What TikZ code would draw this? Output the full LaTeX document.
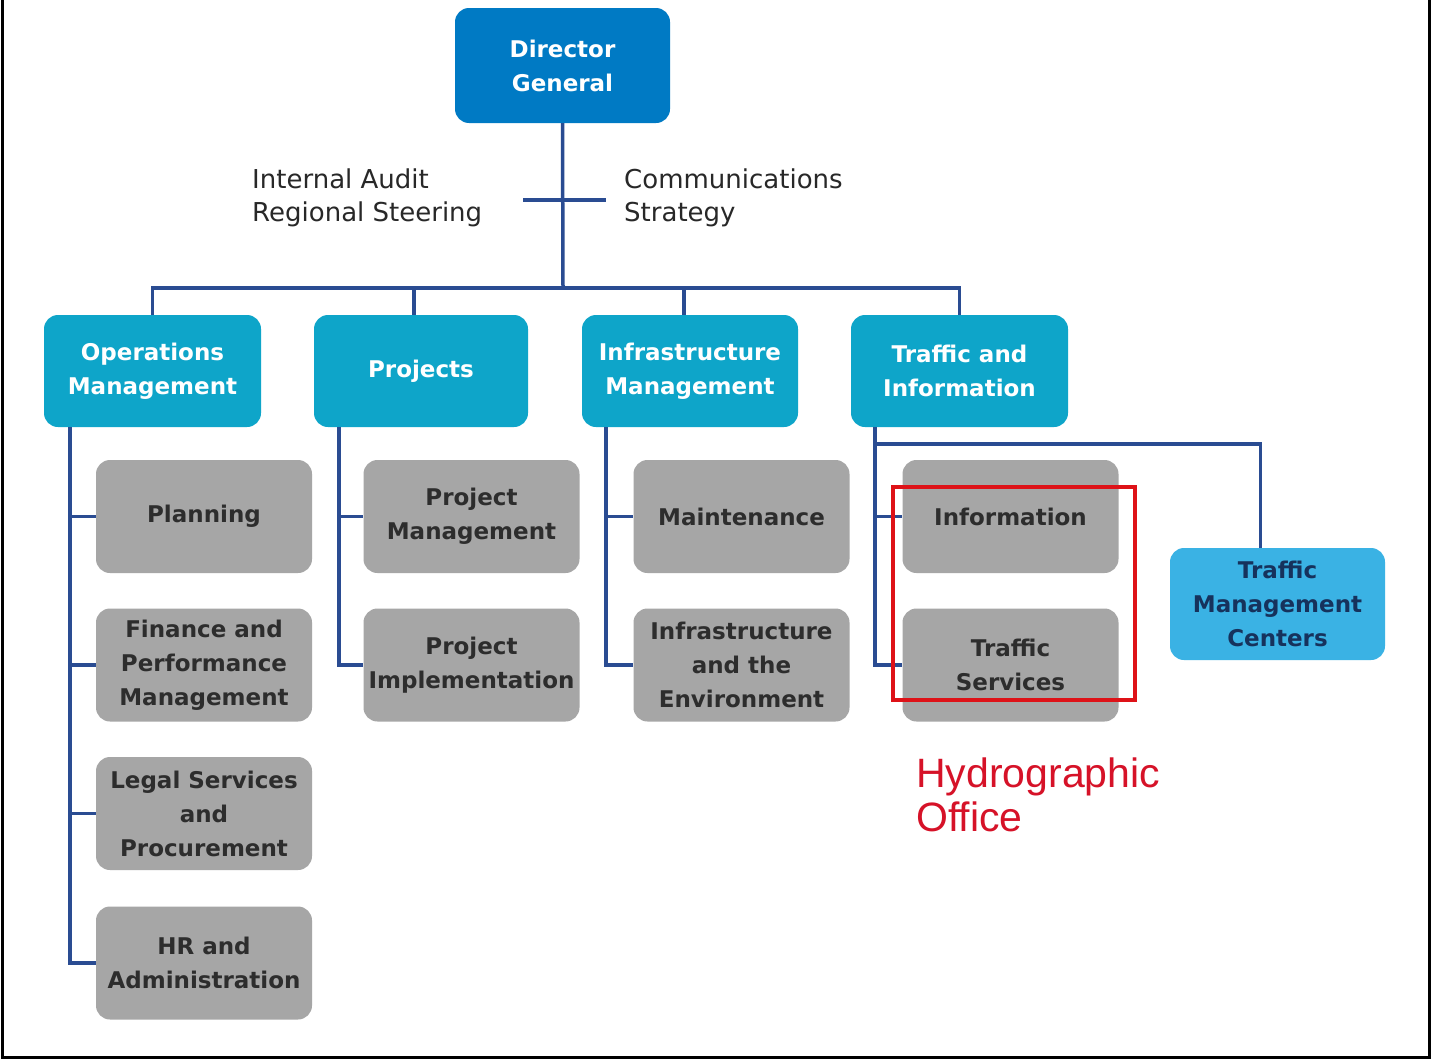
\documentclass[tikz,border=0pt]{standalone}
\usepackage{fontspec}
\setmainfont{DejaVu Sans}
\newfontfamily\hydrofont{Liberation Sans}
\definecolor{dgblue}{RGB}{0,122,196}
\definecolor{divblue}{RGB}{14,165,201}
\definecolor{tmcblue}{RGB}{58,178,228}
\definecolor{tmctext}{RGB}{22,50,92}
\definecolor{subgrey}{RGB}{166,166,166}
\definecolor{subtext}{RGB}{45,45,45}
\definecolor{linecol}{RGB}{42,76,146}
\definecolor{sidetext}{RGB}{40,40,40}
\definecolor{hydrored}{RGB}{214,18,40}
\definecolor{framered}{RGB}{222,18,24}
\begin{document}
\begin{tikzpicture}[x=1pt,y=-1pt,
  conn/.style={draw=linecol,line width=3.5pt},
  box/.style={rounded corners=14pt,minimum width=216pt,minimum height=113pt,inner sep=0pt,align=center,font=\bfseries\fontsize{23}{34}\selectfont},
  topbox/.style={box,fill=dgblue,text=white,minimum width=215pt,minimum height=115pt},
  divbox/.style={box,fill=divblue,text=white,minimum height=112pt},
  subbox/.style={box,fill=subgrey,text=subtext},
  tmcbox/.style={box,fill=tmcblue,text=tmctext,minimum width=215pt,minimum height=112pt},
  side/.style={anchor=west,align=left,text=sidetext,inner sep=0pt,font=\fontsize{26}{33}\selectfont}]
\useasboundingbox (0,0) rectangle (1431,1060);
\fill[white] (0,0) rectangle (1431,1060);
% frame
\draw[black,line width=3pt] (2,0) -- (2,1057.5) -- (1429,1057.5) -- (1429,0);

% top
\node[topbox] (dg) at (562.5,65.5) {Director\\General};
\node[side] (audit) at (252,198) {Internal Audit\\Regional Steering};
\node[side] (comm) at (624,198) {Communications\\Strategy};

% divisions
\node[divbox,minimum width=217pt] (ops) at (152.5,371) {Operations\\Management};
\node[divbox,minimum width=214pt] (proj) at (421,371) {Projects};
\node[divbox] (infra) at (690,371) {Infrastructure\\Management};
\node[divbox,minimum width=217pt] (trf) at (959.5,371) {Traffic and\\Information};

% sub units
\node[subbox] (plan) at (204,516.5) {Planning};
\node[subbox] (fin) at (204,665) {Finance and\\Performance\\Management};
\node[subbox] (legal) at (204,813.5) {Legal Services\\and\\Procurement};
\node[subbox] (hr) at (204,963) {HR and\\Administration};
\node[subbox] (pm) at (471.5,516.5) {Project\\Management};
\node[subbox] (pi) at (471.5,665) {Project\\Implementation};
\node[subbox] (mt) at (741.5,516.5) {Maintenance};
\node[subbox] (ie) at (741.5,665) {Infrastructure\\and the\\Environment};
\node[subbox] (info) at (1010.5,516.5) {Information};
\node[subbox] (ts) at (1010.5,665) {Traffic\\Services};
\node[tmcbox] (tmc) at (1277.5,604) {Traffic\\Management\\Centers};

% connectors top
\coordinate (bar) at (563,288);
\coordinate (crossL) at (523,200);
\coordinate (crossR) at (606,200);
\draw[conn] (dg.south) -- (bar);
\draw[conn] (crossL) -- (crossR);
\draw[conn] (ops.north) -- (ops.north |- bar) -- (trf.north |- bar) -- (trf.north);
\draw[conn] ([xshift=-7pt]proj.north) -- ([xshift=-7pt]proj.north |- bar);
\draw[conn] ([xshift=-6pt]infra.north) -- ([xshift=-6pt]infra.north |- bar);

% rails
\coordinate (opsrail) at (70,427);
\coordinate (projrail) at (339,427);
\coordinate (infrarail) at (606,427);
\coordinate (trfrail) at (875,427);
\draw[conn] (opsrail) |- (hr.west);
\draw[conn] (opsrail |- plan.west) -- (plan.west);
\draw[conn] (opsrail |- fin.west) -- (fin.west);
\draw[conn] (opsrail |- legal.west) -- (legal.west);
\draw[conn] (projrail) |- (pi.west);
\draw[conn] (projrail |- pm.west) -- (pm.west);
\draw[conn] (infrarail) |- (ie.west);
\draw[conn] (infrarail |- mt.west) -- (mt.west);
\draw[conn] (trfrail) |- (ts.west);
\draw[conn] (trfrail |- info.west) -- (info.west);
\coordinate (tjoin) at (873,444);
\draw[conn] (tjoin) -| ([xshift=-17pt]tmc.north);

% highlight
\draw[framered,line width=4pt] (893,487) rectangle (1135,700);
\node[anchor=west,align=left,inner sep=0pt,text=hydrored,font=\hydrofont\fontsize{41}{44}\selectfont] (hydro) at (916,795) {Hydrographic\\Office};
\end{tikzpicture}
\end{document}
